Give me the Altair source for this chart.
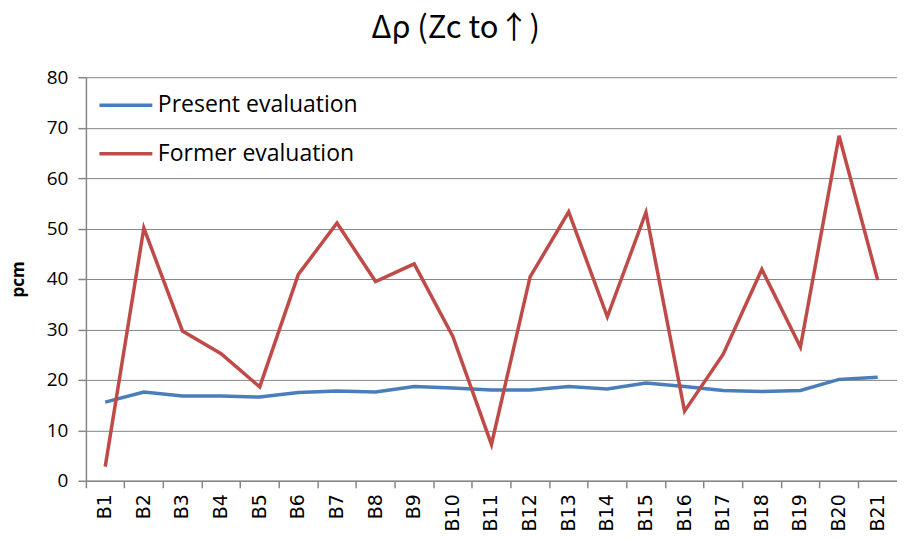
import altair as alt
import pandas as pd

categories = ["B1", "B2", "B3", "B4", "B5", "B6", "B7", "B8", "B9", "B10", "B11",
              "B12", "B13", "B14", "B15", "B16", "B17", "B18", "B19", "B20", "B21"]
present = [15.6, 17.6, 16.8, 16.8, 16.6, 17.5, 17.8, 17.6, 18.7, 18.4, 18.0,
           18.0, 18.7, 18.2, 19.4, 18.7, 17.9, 17.7, 17.9, 20.1, 20.5]
former = [2.8, 50.1, 29.7, 25.2, 18.6, 40.9, 51.1, 39.5, 43.0, 28.6, 7.2,
          40.4, 53.3, 32.5, 53.2, 13.8, 25.1, 41.9, 26.5, 68.4, 39.8]
series_names = ["Present evaluation", "Former evaluation"]
series_colors = ["#4A7EBB", "#BE4B48"]
y_ticks = [0, 10, 20, 30, 40, 50, 60, 70, 80]

df = pd.DataFrame({
    "cat": categories * 2,
    "val": present + former,
    "series": [series_names[0]] * len(categories) + [series_names[1]] * len(categories),
})

W = 812
H = 404

chart = alt.Chart(df).mark_line(strokeWidth=3.5).encode(
    x=alt.X("cat:N", sort=categories,
            scale=alt.Scale(type="band", paddingInner=0, paddingOuter=0),
            axis=alt.Axis(title=None, labelAngle=-90, bandPosition=0,
                          labelFont="DejaVu Sans",
                          labelFontSize=19, tickSize=7, labelPadding=6,
                          labelColor="black")),
    y=alt.Y("val:Q", scale=alt.Scale(domain=[0, 80], nice=False),
            axis=alt.Axis(values=y_ticks, title="pcm", titleFont="Open Sans",
                          titleFontSize=17, titleFontWeight="bold",
                          titleColor="black", labelFont="Open Sans",
                          labelFontSize=19, labelColor="black", tickSize=8,
                          labelPadding=10, titlePadding=19, grid=True)),
    color=alt.Color("series:N",
                    scale=alt.Scale(domain=series_names, range=series_colors),
                    legend=alt.Legend(orient="none", legendX=25, legendY=13,
                                      title=None, symbolType="M-2,0L2,0",
                                      symbolSize=702, symbolStrokeWidth=3.5,
                                      labelFont="Open Sans", labelFontSize=23,
                                      labelColor="black", labelOffset=17,
                                      labelLimit=0, rowPadding=21.5)),
).properties(
    width=W,
    height=H,
    title=alt.TitleParams("Δρ (Zc to↑)", font="Noto Sans CJK JP", fontSize=31,
                          fontWeight="normal", color="black", anchor="middle",
                          dx=-36, offset=23),
    padding={"left": 1, "top": 5, "right": 0, "bottom": 0},
).configure_view(
    strokeWidth=0
).configure_axis(
    domainColor="#868686", domainWidth=1.5, gridColor="#868686",
    gridWidth=1, tickColor="#868686", tickWidth=1.5,
)

chart.save("out.html", embed_options={"renderer": "svg", "actions": False})
